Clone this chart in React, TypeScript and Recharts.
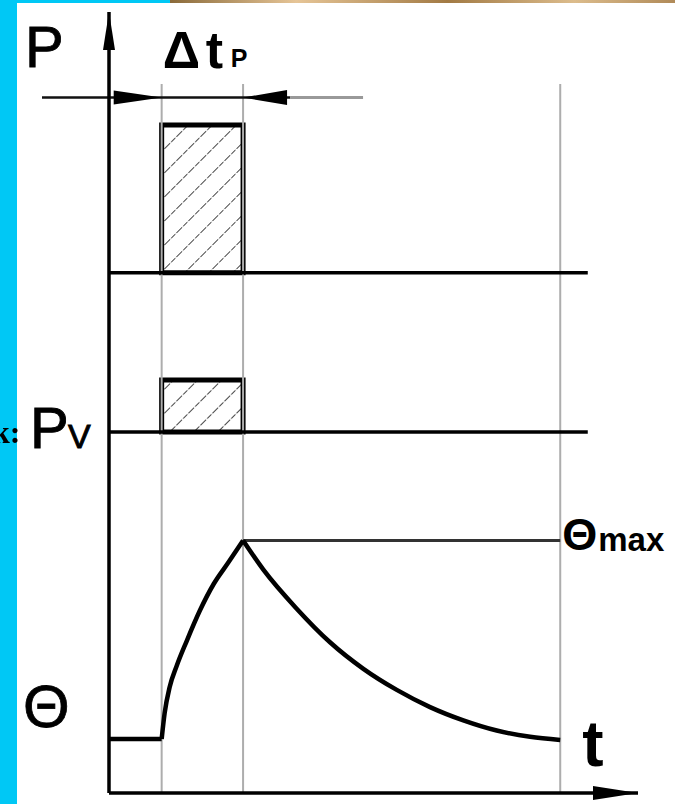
import React from "react";
import {
  ComposedChart,
  Line,
  XAxis,
  YAxis,
  ReferenceLine,
  ReferenceArea,
  ReferenceDot,
} from "recharts";

// time axis: pulse starts at T_ON, lasts one unit (Δt_P)
const T_ON = 0.65;
const T_OFF = 1.655;
const T_END = 5.57;
const T_BASE_END = 5.91;
const T_AXIS_END = 6.53;

// power levels (shared vertical scale 0..100)
const pLevels = { base: 66.62, top: 85.53 };
const pvLevels = { base: 46.22, top: 52.88 };
const DIM_Y = 89.05;
const GUIDE_TOP = 90.78;

// temperature curve
const flatT = [0, T_ON];
const flatTheta = [6.91, 6.91];
const riseT = [0.65, 0.687, 0.749, 0.835, 0.959, 1.119, 1.292, 1.477, 1.655];
const riseTheta = [6.91, 10.24, 13.57, 16.26, 19.46, 23.3, 26.76, 29.57, 32.33];
const decayT = [1.655, 1.905, 2.317, 2.728, 3.14, 3.552, 3.963, 4.374, 4.786, 5.198, 5.57];
const decayTheta = [32.33, 28.6, 23.6, 19.3, 15.9, 13.2, 11.0, 9.3, 8.0, 7.2, 6.8];
const THETA_MAX = 32.33;

const toRows = (ts: number[], vs: number[]) => ts.map((t, i) => ({ t, theta: vs[i] }));
const flatData = toRows(flatT, flatTheta);
const riseData = toRows(riseT, riseTheta);
const decayData = toRows(decayT, decayTheta);

const FONT = "'Liberation Sans', Arial, Helvetica, sans-serif";

type Dir = "up" | "right" | "left";
const arrowHead = (dir: Dir, len: number, half: number) => (p: any) => {
  const { cx, cy } = p;
  let pts = "";
  if (dir === "up") pts = `${cx},${cy} ${cx - half},${cy + len} ${cx + half},${cy + len}`;
  if (dir === "right") pts = `${cx},${cy} ${cx - len},${cy - half} ${cx - len},${cy + half}`;
  if (dir === "left") pts = `${cx},${cy} ${cx + len},${cy - half} ${cx + len},${cy + half}`;
  return <polygon points={pts} fill="#000" />;
};

const label = (render: (cx: number, cy: number) => React.ReactElement) => (p: any) =>
  render(p.cx, p.cy);

export default function App() {
  return (
    <div style={{ position: "fixed", left: 0, top: 0, width: 675, height: 804, background: "#fff" }}>
      <div style={{ position: "absolute", left: 0, top: 0, width: 17, height: 804, background: "#00c8f5", zIndex: 2 }} />
      <div style={{ position: "absolute", left: 0, top: 0, width: 170, height: 3, background: "#00c8f5", zIndex: 2 }} />
      <div
        style={{
          position: "absolute",
          left: 170,
          top: 0,
          width: 505,
          height: 3,
          background: "linear-gradient(90deg, #8a6a3a, #e6c597 25%, #a27a44 55%, #dcbc8c 80%, #b08a58)",
          zIndex: 2,
        }}
      />
      <span
        style={{
          position: "absolute",
          left: -8,
          top: 416,
          fontFamily: "'Liberation Serif', 'Times New Roman', serif",
          fontWeight: 700,
          fontSize: 32,
          lineHeight: "32px",
          color: "#000",
          zIndex: 3,
          whiteSpace: "nowrap",
        }}
      >
        k:
      </span>
      <ComposedChart
        width={675}
        height={804}
        margin={{ top: 12, right: 37, bottom: 0, left: 0 }}
        style={{ position: "absolute", left: 0, top: 0 }}
      >
        <defs>
          <pattern id="hatch" width="17" height="17" patternUnits="userSpaceOnUse" patternTransform="rotate(45)">
            <rect width="17" height="17" fill="#fff" />
            <line x1="0" y1="0" x2="0" y2="17" stroke="#444" strokeWidth="2" strokeDasharray="6 1.5" />
          </pattern>
        </defs>
        <XAxis
          type="number"
          dataKey="t"
          domain={[0, T_AXIS_END]}
          allowDataOverflow
          tick={false}
          tickLine={false}
          axisLine={{ stroke: "#000", strokeWidth: 3.5 }}
          height={11}
        />
        <YAxis
          type="number"
          domain={[0, 100]}
          allowDataOverflow
          tick={false}
          tickLine={false}
          axisLine={{ stroke: "#000", strokeWidth: 3.5 }}
          width={109}
        />

        {/* guide lines */}
        {[T_ON, T_OFF, T_END].map((x) => (
          <ReferenceLine
            key={x}
            segment={[{ x, y: 0 }, { x, y: GUIDE_TOP }]}
            stroke="#adadad"
            strokeWidth={2}
            ifOverflow="visible"
          />
        ))}

        {/* dimension line for Δt_P */}
        <ReferenceLine
          segment={[{ x: -0.827, y: DIM_Y }, { x: 2.235, y: DIM_Y }]}
          stroke="#111"
          strokeWidth={2.5}
          ifOverflow="visible"
        />
        <ReferenceLine
          segment={[{ x: 2.235, y: DIM_Y }, { x: 3.136, y: DIM_Y }]}
          stroke="#999"
          strokeWidth={3}
          ifOverflow="visible"
        />
        <ReferenceDot x={T_ON} y={DIM_Y} ifOverflow="visible" shape={arrowHead("right", 48, 7)} />
        <ReferenceDot x={T_OFF} y={DIM_Y} ifOverflow="visible" shape={arrowHead("left", 44, 7.5)} />

        {/* power pulses */}
        <ReferenceArea
          x1={T_ON}
          x2={T_OFF}
          y1={pLevels.base}
          y2={pLevels.top}
          fill="url(#hatch)"
          fillOpacity={1}
          stroke="#000"
          strokeWidth={5}
          ifOverflow="visible"
        />
        <ReferenceLine
          segment={[{ x: 0, y: pLevels.base }, { x: T_BASE_END, y: pLevels.base }]}
          stroke="#000"
          strokeWidth={3.5}
          ifOverflow="visible"
        />
        <ReferenceArea
          x1={T_ON}
          x2={T_OFF}
          y1={pvLevels.base}
          y2={pvLevels.top}
          fill="url(#hatch)"
          fillOpacity={1}
          stroke="#000"
          strokeWidth={5}
          ifOverflow="visible"
        />
        <ReferenceLine
          segment={[{ x: 0, y: pvLevels.base }, { x: T_BASE_END, y: pvLevels.base }]}
          stroke="#000"
          strokeWidth={3.5}
          ifOverflow="visible"
        />

        {/* temperature */}
        <ReferenceLine
          segment={[{ x: T_OFF, y: THETA_MAX }, { x: T_END, y: THETA_MAX }]}
          stroke="#333"
          strokeWidth={3}
          ifOverflow="visible"
        />
        <Line data={flatData} dataKey="theta" type="linear" stroke="#000" strokeWidth={4.5} dot={false} isAnimationActive={false} />
        <Line data={riseData} dataKey="theta" type="monotone" stroke="#000" strokeWidth={4.5} dot={false} isAnimationActive={false} />
        <Line data={decayData} dataKey="theta" type="monotone" stroke="#000" strokeWidth={4.5} dot={false} isAnimationActive={false} />

        {/* axis arrows */}
        <ReferenceDot x={0} y={100} ifOverflow="visible" shape={arrowHead("up", 38, 6)} />
        <ReferenceDot x={T_AXIS_END} y={0} ifOverflow="visible" shape={arrowHead("right", 45, 7)} />

        {/* labels */}
        <ReferenceDot
          x={0}
          y={100}
          ifOverflow="visible"
          shape={label((cx, cy) => (
            <text x={cx - 84} y={cy + 55} fontFamily={FONT} fontSize={58} fill="#000" stroke="#000" strokeWidth={0.8}>
              P
            </text>
          ))}
        />
        <ReferenceDot
          x={T_ON}
          y={DIM_Y}
          ifOverflow="visible"
          shape={label((cx, cy) => (
            <text fontFamily={FONT} fontWeight={700} fill="#000">
              <tspan x={cx + 1} y={cy - 29.5} fontSize={52}>Δ</tspan>
              <tspan x={cx + 44} y={cy - 29.5} fontSize={52}>t</tspan>
              <tspan x={cx + 69} y={cy - 30.5} fontSize={25}>P</tspan>
            </text>
          ))}
        />
        <ReferenceDot
          x={0}
          y={pvLevels.base}
          ifOverflow="visible"
          shape={label((cx, cy) => (
            <text fontFamily={FONT} fill="#000" stroke="#000" strokeWidth={0.9}>
              <tspan x={cx - 79} y={cy + 16} fontSize={58}>P</tspan>
              <tspan x={cx - 41} y={cy + 16} fontSize={34}>V</tspan>
            </text>
          ))}
        />
        <ReferenceDot
          x={0}
          y={flatTheta[0]}
          ifOverflow="visible"
          shape={label((cx, cy) => (
            <text x={cx - 86} y={cy - 12} fontFamily={FONT} fontSize={60} fill="#000" stroke="#000" strokeWidth={0.8}>
              Θ
            </text>
          ))}
        />
        <ReferenceDot
          x={T_END}
          y={THETA_MAX}
          ifOverflow="visible"
          shape={label((cx, cy) => (
            <text fontFamily={FONT} fontWeight={700} fill="#000">
              <tspan x={cx + 2} y={cy + 9} fontSize={45}>Θ</tspan>
              <tspan x={cx + 38} y={cy + 10} fontSize={33}>max</tspan>
            </text>
          ))}
        />
        <ReferenceDot
          x={T_END}
          y={decayTheta[decayTheta.length - 1]}
          ifOverflow="visible"
          shape={label((cx, cy) => (
            <text x={cx + 22} y={cy + 26} fontFamily={FONT} fontWeight={700} fontSize={64} fill="#000">
              t
            </text>
          ))}
        />
      </ComposedChart>
    </div>
  );
}
